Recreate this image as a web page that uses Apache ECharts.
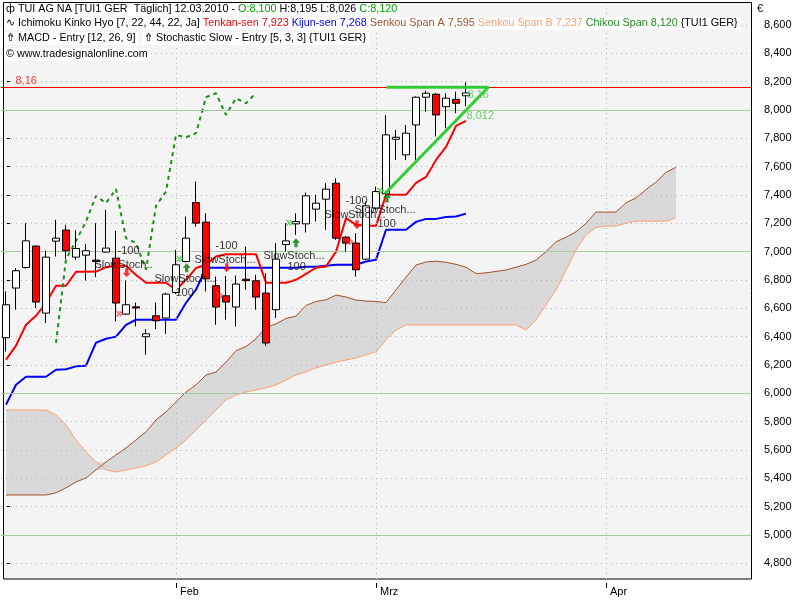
<!DOCTYPE html>
<html><head><meta charset="utf-8">
<script src="https://cdn.jsdelivr.net/npm/echarts@6/dist/echarts.min.js"></script>
<style>html,body{margin:0;padding:0;background:#fff}#c{width:800px;height:600px}</style>
</head><body><div id="c"></div>
<script>
// ---------- DATA ----------
// daily candles (index 0 = 07.01.2010 ... 46 = 12.03.2010)
const opens  = [6.392,6.743,6.888,7.039,6.566,7.074,7.152,6.961,6.975,6.940,6.997,6.954,6.559,6.610,6.399,6.547,6.531,6.712,6.930,7.346,7.208,6.759,6.688,6.609,6.805,6.794,6.707,6.590,7.050,7.196,7.196,7.300,7.370,7.483,7.102,7.060,6.947,7.307,7.408,7.793,7.683,7.894,8.090,8.111,8.023,8.075,8.100];
const closes = [6.625,6.865,7.076,6.644,6.961,7.095,7.006,7.022,7.006,6.930,7.025,6.637,6.625,6.602,6.420,6.512,6.700,6.907,7.095,7.201,6.808,6.609,6.644,6.771,6.795,6.679,6.355,6.947,7.076,7.212,7.394,7.342,7.441,7.095,7.060,6.872,7.323,7.424,7.824,7.807,7.836,8.090,8.118,7.965,8.083,8.047,8.120];
const lows   = [6.295,6.590,6.880,6.602,6.496,6.965,6.947,6.942,6.796,6.820,6.990,6.507,6.555,6.472,6.272,6.453,6.420,6.700,6.925,7.177,6.719,6.484,6.519,6.472,6.731,6.590,6.336,6.531,7.001,7.118,7.135,7.212,7.154,7.083,7.000,6.824,6.940,7.295,7.400,7.647,7.647,7.647,7.988,7.812,7.871,7.977,8.026];
const highs  = [6.719,6.884,7.201,7.045,7.006,7.224,7.189,7.152,7.055,7.201,7.295,7.147,6.796,6.640,6.453,6.641,6.710,7.013,7.248,7.494,7.271,6.824,6.829,6.831,7.036,6.836,6.848,7.060,7.201,7.271,7.417,7.401,7.483,7.518,7.110,7.130,7.353,7.459,7.965,7.859,7.894,8.095,8.136,8.120,8.118,8.129,8.195];
const tenkan = [6.237,6.336,6.484,6.547,6.639,6.759,6.759,6.858,6.858,6.859,6.890,6.900,6.900,6.835,6.780,6.780,6.780,6.731,6.801,6.884,6.907,6.965,6.982,6.982,6.982,6.982,6.780,6.780,6.780,6.801,6.843,6.886,6.895,7.000,7.236,7.189,7.182,7.182,7.401,7.401,7.401,7.485,7.527,7.647,7.739,7.887,7.923];
const kijun  = [5.920,6.060,6.117,6.117,6.117,6.166,6.170,6.190,6.195,6.357,6.385,6.400,6.483,6.519,6.519,6.519,6.519,6.519,6.639,6.731,6.886,6.886,6.886,6.886,6.886,6.886,6.886,6.886,6.886,6.886,6.893,6.893,6.900,6.907,6.907,6.907,6.930,6.942,7.154,7.154,7.154,7.210,7.231,7.231,7.245,7.248,7.268];
// Senkou spans (index 0 .. 67)
const senkouA = [5.282,5.282,5.282,5.282,5.282,5.297,5.332,5.374,5.402,5.459,5.515,5.565,5.614,5.671,5.727,5.812,5.868,5.939,6.009,6.059,6.129,6.150,6.220,6.300,6.330,6.385,6.465,6.490,6.528,6.545,6.620,6.648,6.660,6.693,6.680,6.658,6.651,6.648,6.640,6.730,6.820,6.905,6.927,6.932,6.925,6.910,6.890,6.845,6.850,6.860,6.870,6.890,6.910,6.940,7.000,7.070,7.100,7.140,7.200,7.279,7.279,7.279,7.345,7.379,7.438,7.490,7.560,7.595];
const senkouB = [5.882,5.882,5.882,5.882,5.882,5.847,5.777,5.671,5.586,5.515,5.459,5.445,5.459,5.473,5.487,5.515,5.565,5.614,5.671,5.741,5.812,5.882,5.953,5.988,6.009,6.024,6.038,6.059,6.094,6.129,6.151,6.179,6.200,6.221,6.235,6.249,6.271,6.292,6.377,6.447,6.482,6.482,6.482,6.482,6.482,6.482,6.482,6.482,6.482,6.482,6.482,6.482,6.447,6.518,6.624,6.729,6.871,7.012,7.118,7.170,7.180,7.180,7.200,7.215,7.215,7.215,7.215,7.237];
// Chikou span (index 5 .. 25)
const chikou = [null,null,null,null,null,6.355,6.947,7.076,7.212,7.394,7.342,7.441,7.095,7.060,6.872,7.323,7.424,7.824,7.807,7.836,8.090,8.118,7.965,8.083,8.047,8.120];
// y-axis tick labels
const yTicks = [4.8,5.0,5.2,5.4,5.6,5.8,6.0,6.2,6.4,6.6,6.8,7.0,7.2,7.4,7.6,7.8,8.0,8.2,8.4,8.6];
const monthNames = ['Jan','Feb','Mrz','Apr'];
// drawings / signals  [index, value]
const hLine = 8.16;
const triangle = [[38.07,8.16],[48.23,8.16],[37.9,7.41]];
const stochTexts = [[8.9,6.899,'SlowStoch..'],[11.2,6.998,'-100'],[14.9,6.80,'SlowStoch...'],[17.0,6.708,'100'],
  [18.9,6.934,'SlowStoch...'],[21.0,7.033,'-100'],[25.8,6.969,'SlowStoch...'],[28.2,6.885,'100'],
  [31.9,7.252,'SlowStoch...'],[34.0,7.351,'-100'],[34.9,7.287,'SlowStoch...'],[37.2,7.195,'100']];
const buyArrows = [[18.07,6.886],[29.0,7.062],[38.1,7.379]];
const sellArrows = [[12.07,6.85],[22.07,6.886],[35.1,7.19]];
const buyMarks = [[17.4,6.949],[28.4,7.203],[37.5,7.429]];
const sellMarks = [[11.4,6.561],[21.4,6.688],[34.4,7.069]];
const greenLabels = [[46.2,8.099,'8,16'],[46.1,7.951,'8,012']];

// ---------- BUILD ----------
const categories = [];
{ let d = new Date(Date.UTC(2010,0,7));
  while (categories.length < 75) { const wd = d.getUTCDay();
    if (wd !== 0 && wd !== 6) categories.push(d.toISOString().slice(0,10));
    d = new Date(d.getTime() + 86400000); } }
const monthIdx = new Map();
categories.forEach((c,i)=>{ if(i>0 && c.slice(5,7)!==categories[i-1].slice(5,7)) monthIdx.set(i, monthNames[+c.slice(5,7)-1]); });
const candles = opens.map((o,i)=>[o, closes[i], lows[i], highs[i]]);
const cloudBase = senkouA.map((a,i)=>Math.min(a, senkouB[i]));
const cloudBand = senkouA.map((a,i)=>Math.abs(a - senkouB[i]));
const F = '"Liberation Sans", Arial, sans-serif';
const HF = '10.8px ' + F;
const fmt = v => v.toFixed(3).replace('.', ',');

const gridLines = yTicks.map(v => ({yAxis: v, lineStyle: Math.abs(v - Math.round(v)) < 1e-6
    ? {color:'#a9c9a0', width:1, type:'solid'} : {color:'#b4b4b4', width:1, type:[1,4]}}));
[...monthIdx.keys()].forEach(i => gridLines.push({xAxis: i, lineStyle:{color:'#b4b4b4', width:1, type:[1,4]}}));
gridLines.push({yAxis: hLine, lineStyle:{color:'#ff0000', width:1, type:'solid'}});

const lineBase = {type:'line', symbol:'none', showSymbol:false, connectNulls:false, silent:true};
const txt = (x,y,text,rich) => ({type:'text', x, y, z:100, silent:true,
  style:{text, rich, font:HF, fill:'#000', backgroundColor:'#fff', padding:[1,3,1,2], verticalAlign:'top'}});

const option = {
  animation:false,
  backgroundColor:'#ffffff',
  textStyle:{fontFamily:F, fontSize:11, color:'#000'},
  grid:{left:1, top:2, width:750, height:577, show:false},
  xAxis:[
    {type:'category', data:categories, boundaryGap:true, offset:4,
     axisLine:{show:false}, splitLine:{show:false},
     axisTick:{show:true, alignWithLabel:true, interval:(i)=>monthIdx.has(i), length:5, lineStyle:{color:'#000'}},
     axisLabel:{show:true, interval:(i)=>monthIdx.has(i), formatter:(v,i)=>monthIdx.get(i)||'', align:'left',
       padding:[0,0,0,4], margin:3, color:'#000', fontSize:11, fontFamily:F}},
    {type:'value', min:-0.5, max:74.5, show:false}
  ],
  yAxis:{type:'value', position:'right', min:4.689, max:8.762, offset:5,
    axisLine:{show:false}, splitLine:{show:false},
    axisTick:{show:true, length:4, customValues:yTicks, lineStyle:{color:'#000'}},
    axisLabel:{show:true, customValues:yTicks, formatter:fmt, margin:8, color:'#000', fontSize:11, fontFamily:F}},
  graphic:[
    {type:'rect', silent:true, z:-10, shape:{x:3.5, y:2.5, width:748, height:576.5}, style:{fill:'#f4f4f4', stroke:'#000', lineWidth:1}},
    txt(4,3,'ф TUI AG NA [TUI1 GER  Täglich] 12.03.2010 - {g|O:8,100} H:8,195 L:8,026 {g|C:8,120}',
      {g:{fill:'#00a000', font:HF}}),
    txt(4,17,'∿ Ichimoku Kinko Hyo [7, 22, 44, 22, Ja] {r|Tenkan-sen 7,923} {b|Kijun-sen 7,268} {a|Senkou Span A 7,595} {s|Senkou Span B 7,237} {g|Chikou Span 8,120} {TUI1 GER}',
      {r:{fill:'#ff0000', font:HF}, b:{fill:'#0000ff', font:HF}, a:{fill:'#a0522d', font:HF},
       s:{fill:'#ff9f7a', font:HF}, g:{fill:'#1e8c1e', font:HF}}),
    txt(4,32,'⇮ MACD - Entry [12, 26, 9]'),
    txt(142,32,'⇮ Stochastic Slow - Entry [5, 3, 3] {TUI1 GER}'),
    txt(4,48,'© www.tradesignalonline.com'),
    {type:'text', x:757, y:3, silent:true, style:{text:'€', font:'11px '+F, fill:'#000'}}
  ],
  series:[
    {type:'scatter', xAxisIndex:1, data:[[-5,6]], symbolSize:0, z:0, silent:true,
     markLine:{silent:true, symbol:['none','none'], label:{show:false}, animation:false, data:gridLines}},
    Object.assign({}, lineBase, {name:'cloudBase', data:cloudBase, stack:'cloud', z:1, lineStyle:{opacity:0}}),
    Object.assign({}, lineBase, {name:'cloud', data:cloudBand, stack:'cloud', z:1, lineStyle:{opacity:0},
      areaStyle:{color:'#d9d9d9', opacity:1}}),
    Object.assign({}, lineBase, {name:'Senkou Span A', data:senkouA, z:3, lineStyle:{color:'#a0522d', width:1}}),
    Object.assign({}, lineBase, {name:'Senkou Span B', data:senkouB, z:3, lineStyle:{color:'#ff9f7a', width:1}}),
    Object.assign({}, lineBase, {name:'Kijun-sen', data:kijun, z:4, lineStyle:{color:'#0000ff', width:2}}),
    Object.assign({}, lineBase, {name:'Tenkan-sen', data:tenkan, z:4, lineStyle:{color:'#ff0000', width:2}}),
    Object.assign({}, lineBase, {name:'Chikou Span', data:chikou, z:4, lineStyle:{color:'#1e8c1e', width:2, type:[4,4]}}),
    {type:'candlestick', name:'TUI', data:candles, barWidth:7, z:5, silent:true,
     itemStyle:{color:'#ffffff', color0:'#ff0000', borderColor:'#000000', borderColor0:'#000000', borderWidth:1}},
    Object.assign({}, lineBase, {name:'triangle', xAxisIndex:1, data:triangle, z:6, lineStyle:{color:'#33cc33', width:3}}),
    {type:'scatter', xAxisIndex:1, z:7, silent:true, symbolSize:1, itemStyle:{color:'transparent'},
     data:stochTexts.map(t=>({value:[t[0],t[1]], label:{formatter:t[2]}})),
     label:{show:true, position:[0,0], align:'left', verticalAlign:'middle', color:'#000', fontSize:11, fontFamily:F}},
    {type:'scatter', xAxisIndex:1, z:7, silent:true, symbolSize:1, itemStyle:{color:'transparent'},
     data:[{value:[1.0, hLine], label:{formatter:'8,16', color:'#ff0000'}}],
     label:{show:true, position:[0,-6], align:'left', verticalAlign:'middle', fontSize:11, fontFamily:F}},
    {type:'scatter', xAxisIndex:1, z:7, silent:true, symbolSize:1, itemStyle:{color:'transparent'},
     data:greenLabels.map(t=>({value:[t[0],t[1]], label:{formatter:t[2]}})),
     label:{show:true, position:[0,0], align:'left', verticalAlign:'middle', color:'#44cc44', fontSize:11, fontFamily:F}},
    {type:'scatter', xAxisIndex:1, z:8, silent:true, data:buyArrows, symbol:'path://M5,0L10,5L7,5L7,10L3,10L3,5L0,5Z',
     symbolSize:[8,9], itemStyle:{color:'#007a00'}},
    {type:'scatter', xAxisIndex:1, z:8, silent:true, data:sellArrows, symbol:'path://M5,0L10,5L7,5L7,10L3,10L3,5L0,5Z',
     symbolRotate:180, symbolSize:[8,9], itemStyle:{color:'#ff0000'}},
    {type:'scatter', xAxisIndex:1, z:8, silent:true, data:buyMarks, symbol:'path://M0,0L4,4L0,8L0,6L2,4L0,2ZM3,0L7,4L3,8L3,6L5,4L3,2Z',
     symbolSize:[7,7], itemStyle:{color:'#33bb33'}},
    {type:'scatter', xAxisIndex:1, z:8, silent:true, data:sellMarks, symbol:'path://M0,0L4,4L0,8L0,6L2,4L0,2ZM3,0L7,4L3,8L3,6L5,4L3,2Z',
     symbolSize:[7,7], itemStyle:{color:'#ff3333'}}
  ]
};
const chart = echarts.init(document.getElementById('c'), null, {renderer:'canvas'});
chart.setOption(option);
</script></body></html>
